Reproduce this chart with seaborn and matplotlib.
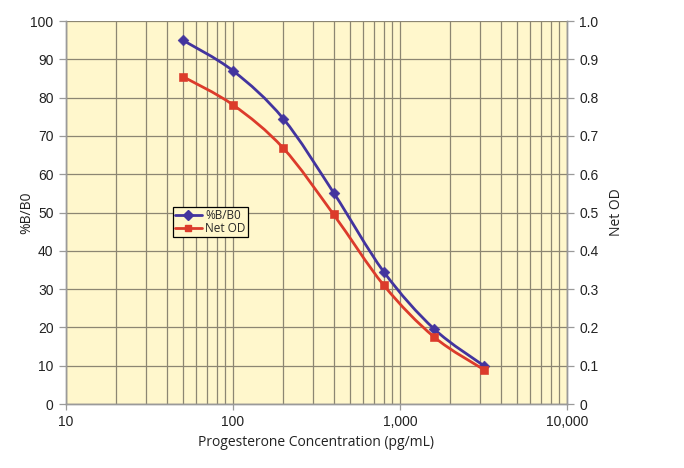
import numpy as np
import matplotlib
matplotlib.use("Agg")
import matplotlib.pyplot as plt
from matplotlib.path import Path
from matplotlib.patches import PathPatch
from matplotlib.lines import Line2D
from matplotlib.ticker import FixedLocator, NullFormatter, FixedFormatter
import seaborn as sns
import pandas as pd

# ---- data ----
concentration = [50, 100, 200, 400, 800, 1600, 3200]
pct_b_b0 = [95.0, 87.0, 74.5, 55.2, 34.5, 19.6, 9.9]
net_od = [0.855, 0.781, 0.668, 0.495, 0.310, 0.175, 0.089]
x_ticks = [10, 100, 1000, 10000]
x_ticklabels = ["10", "100", "1,000", "10,000"]
left_ticks = list(range(0, 101, 10))
right_ticks = [i / 10 for i in range(11)]
right_ticklabels = ["0"] + [f"{t:.1f}" for t in right_ticks[1:]]

BLUE = "#43349E"
RED = "#DC3B2B"
BG = "#FFF7CC"
GRID = "#8C8672"

sns.set_theme(style="white")
plt.rcParams["font.family"] = ["Liberation Sans", "DejaVu Sans"]

fig = plt.figure(figsize=(6.84, 4.68), dpi=100)
ax = fig.add_axes([66 / 684, 1 - 404 / 468, (567 - 66) / 684, (404 - 21) / 468])
ax.set_facecolor(BG)
ax2 = ax.twinx()

df = pd.DataFrame({"conc": concentration, "pct": pct_b_b0, "od": net_od})


def smooth_path(xs, ys):
    # Excel-style smooth line: cubic Bezier through points, built in log-x space
    lx = np.log10(np.asarray(xs, float))
    yy = np.asarray(ys, float)
    n = len(lx)
    verts = [(xs[0], ys[0])]
    codes = [Path.MOVETO]
    for i in range(n - 1):
        p0 = max(i - 1, 0)
        p3 = min(i + 2, n - 1)
        c1 = (lx[i] + (lx[i + 1] - lx[p0]) / 6, yy[i] + (yy[i + 1] - yy[p0]) / 6)
        c2 = (lx[i + 1] - (lx[p3] - lx[i]) / 6, yy[i + 1] - (yy[p3] - yy[i]) / 6)
        verts += [(10 ** c1[0], c1[1]), (10 ** c2[0], c2[1]), (xs[i + 1], ys[i + 1])]
        codes += [Path.CURVE4] * 3
    return Path(verts, codes)


ax.set_xscale("log")
ax.set_xlim(10, 10000)
ax.set_ylim(0, 100)
ax2.set_ylim(0, 1.0)

ax.add_patch(PathPatch(smooth_path(concentration, pct_b_b0), facecolor="none",
                       edgecolor=BLUE, lw=2.0, zorder=3))
sns.scatterplot(data=df, x="conc", y="pct", ax=ax, marker="D", s=30,
                color=BLUE, edgecolor=BLUE, zorder=4, legend=False)

ax2.add_patch(PathPatch(smooth_path(concentration, net_od), facecolor="none",
                        edgecolor=RED, lw=2.0, zorder=3))
sns.scatterplot(data=df, x="conc", y="od", ax=ax2, marker="s", s=30,
                color=RED, edgecolor=RED, zorder=4, legend=False)

# grid
ax.set_xticks(x_ticks)
ax.xaxis.set_major_formatter(FixedFormatter(x_ticklabels))
minor = [m * 10 ** e for e in range(1, 4) for m in range(2, 10)]
ax.xaxis.set_minor_locator(FixedLocator(minor))
ax.xaxis.set_minor_formatter(NullFormatter())
ax.grid(True, which="both", axis="x", color=GRID, lw=0.9)
ax.grid(True, which="major", axis="y", color=GRID, lw=0.9)
ax.set_axisbelow(True)

ax.set_yticks(left_ticks)
ax2.set_yticks(right_ticks)
ax2.set_yticklabels(right_ticklabels)

for a in (ax, ax2):
    for s in a.spines.values():
        s.set_color("#9A9A9A")
        s.set_linewidth(1.0)
    a.spines["top"].set_visible(False)

ax.tick_params(axis="y", which="major", left=True, length=5, width=0.9,
               color="#9A9A9A", labelsize=10, pad=4, labelcolor="#222222")
ax.tick_params(axis="x", which="major", bottom=True, length=4, width=0.9,
               color="#9A9A9A", labelsize=10, pad=4, labelcolor="#222222")
ax.tick_params(axis="x", which="minor", bottom=False, length=0)
ax2.tick_params(axis="y", right=True, length=5, width=0.9, color="#9A9A9A",
                labelsize=10, pad=4, labelcolor="#222222")

lab_font = dict(family=["Open Sans", "DejaVu Sans"], fontsize=10, color="#222222")
ax.set_xlabel("Progesterone Concentration (pg/mL)", labelpad=4, **lab_font)
ax.set_ylabel("%B/B0", labelpad=-3, **lab_font)
ax2.set_ylabel("Net OD", labelpad=7, **lab_font)

handles = [
    Line2D([], [], color=BLUE, lw=2, marker="D", markersize=5, label="%B/B0"),
    Line2D([], [], color=RED, lw=2, marker="s", markersize=5, label="Net OD"),
]
leg = ax2.legend(handles=handles, loc="upper left",
                 bbox_to_anchor=((173 - 66) / 501, (404 - 207) / 383),
                 frameon=True, fancybox=False, facecolor=BG, edgecolor="black",
                 framealpha=1, borderpad=0.15, labelspacing=0.05,
                 handlelength=2.3, handletextpad=0.3, borderaxespad=0,
                 prop={"family": ["Open Sans", "DejaVu Sans"], "size": 8.5})
leg.get_frame().set_linewidth(0.9)

fig.savefig("out.png", dpi=100)
